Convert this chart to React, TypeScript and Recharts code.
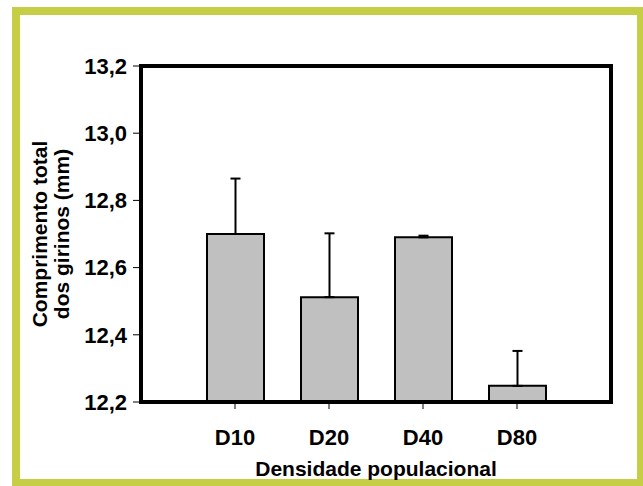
import React from 'react';
import { BarChart, Bar, XAxis, YAxis, ErrorBar, Label, ReferenceLine } from 'recharts';

const categories = ['D10', 'D20', 'D40', 'D80'];
const means = [12.7, 12.512, 12.69, 12.248];
const errUp = [0.165, 0.19, 0.005, 0.104];
const yTicks = [12.2, 12.4, 12.6, 12.8, 13.0, 13.2];

const data = categories.map((c, i) => ({ cat: c, mean: means[i], err: [0, errUp[i]] }));

const FONT = '"Liberation Sans", Arial, Helvetica, sans-serif';
const FS = 22;
const TFS = 21;
const fmt = (v: number) => v.toFixed(1).replace('.', ',');
const frame = { stroke: '#000', strokeWidth: 4, strokeLinecap: 'square' as const };

function YTitle(props: any) {
  const vb = props.viewBox || { x: 0, y: 66, width: 141, height: 336 };
  const cy = vb.y + vb.height / 2;
  const x1 = 39;
  const x2 = 61;
  const st = { fontFamily: FONT, fontSize: TFS, fontWeight: 700, fill: '#000' };
  return (
    <g>
      <text x={x1} y={cy} transform={`rotate(-90 ${x1} ${cy})`} textAnchor="middle" dominantBaseline="central" style={st}>
        Comprimento total
      </text>
      <text x={x2} y={cy} transform={`rotate(-90 ${x2} ${cy})`} textAnchor="middle" dominantBaseline="central" style={st}>
        dos girinos (mm)
      </text>
    </g>
  );
}

export default function App() {
  return (
    <div style={{ position: 'absolute', left: 0, top: 0, width: 643, height: 486, overflow: 'hidden', background: '#fff' }}>
      <div
        style={{
          position: 'absolute',
          left: 12,
          top: 7,
          width: 633,
          height: 480,
          border: '8px solid #C5CE45',
          boxSizing: 'border-box',
        }}
      />
      <div style={{ position: 'absolute', left: 0, top: 0 }}>
        <BarChart width={643} height={486} data={data} margin={{ top: 66, right: 0, left: 0, bottom: 0 }}>
          <XAxis
            dataKey="cat"
            height={84}
            padding={{ left: 47, right: 47 }}
            axisLine={frame}
            tickLine={{ stroke: '#000', strokeWidth: 1 }}
            tickSize={7}
            tickMargin={20}
            tick={{ fontFamily: FONT, fontSize: FS, fontWeight: 700, fill: '#000' }}
          >
            <Label
              value="Densidade populacional"
              position="insideBottom"
              offset={10}
              style={{ fontFamily: FONT, fontSize: TFS, fontWeight: 700, fill: '#000' }}
            />
          </XAxis>
          <YAxis
            width={141}
            domain={[12.2, 13.2]}
            ticks={yTicks}
            allowDataOverflow
            tickFormatter={fmt}
            axisLine={frame}
            tickLine={{ stroke: '#000', strokeWidth: 1 }}
            tickSize={8}
            tickMargin={6}
            tick={{ fontFamily: FONT, fontSize: FS, fontWeight: 700, fill: '#000' }}
          >
            <Label content={YTitle} />
          </YAxis>
          <YAxis
            yAxisId="right"
            orientation="right"
            width={32}
            domain={[0, 1]}
            tick={false}
            tickLine={false}
            axisLine={frame}
          />
          <ReferenceLine y={13.2} stroke="#000" strokeWidth={4} strokeLinecap="square" ifOverflow="visible" />
          <Bar dataKey="mean" fill="#C0C0C0" stroke="#000" strokeWidth={2} barSize={57} isAnimationActive={false}>
            <ErrorBar dataKey="err" width={5} stroke="#000" strokeWidth={2} direction="y" />
          </Bar>
        </BarChart>
      </div>
    </div>
  );
}
